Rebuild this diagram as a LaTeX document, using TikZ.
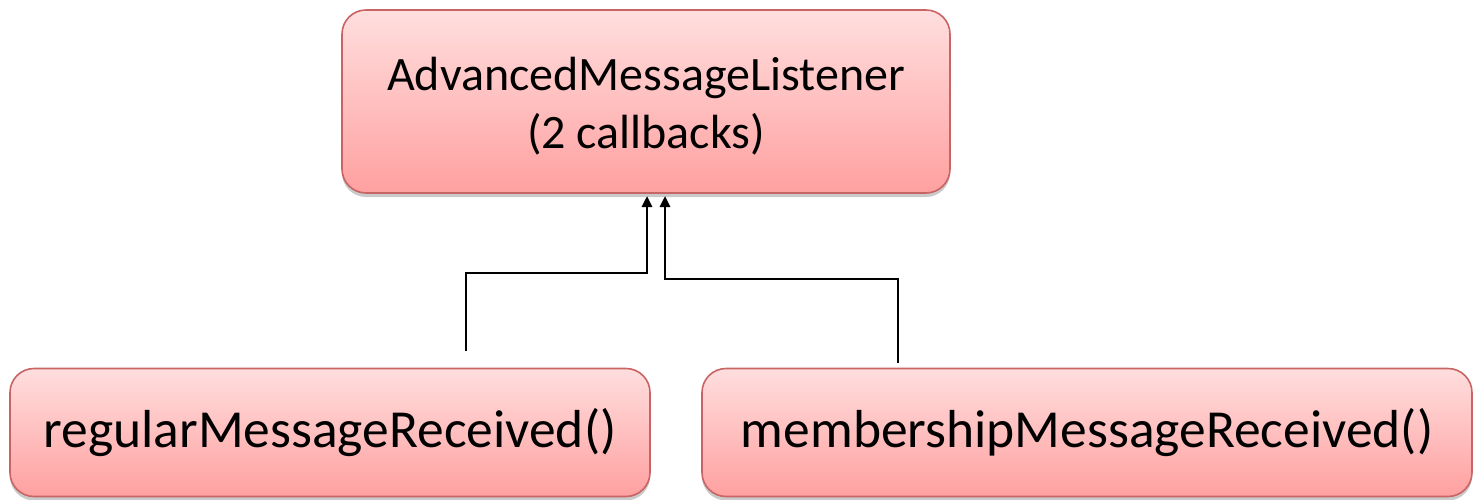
\documentclass[tikz,border=0pt]{standalone}
\usepackage{fontspec}
\setmainfont{Carlito}
\usetikzlibrary{shadows,arrows.meta}
\begin{document}
\begin{tikzpicture}[x=1pt,y=-1pt,
  box/.style={draw={rgb,255:red,200;green,100;blue,100}, line width=1.6pt, rounded corners=24pt,
    top color={rgb,255:red,255;green,222;blue,222}, bottom color={rgb,255:red,255;green,160;blue,160},
    drop shadow={shadow xshift=0pt, shadow yshift=-4pt, opacity=0.35, fill=black!60},
    inner sep=0pt, align=center},
  conn/.style={draw=black, line width=2.6pt, -{Triangle[length=11pt,width=10pt]}}]
\useasboundingbox (0,0) rectangle (1476,499);
\node[box, minimum width=608pt, minimum height=183pt, font=\fontsize{48}{58}\selectfont] (top) at (646,101.5)
  {\rule{0pt}{42pt}AdvancedMessageListener\\(2 callbacks)};
\node[box, minimum width=640pt, minimum height=128pt, font=\fontsize{53.5}{60}\selectfont] (left) at (330,432.5)
  {regularMessageReceived()};
\node[box, minimum width=770pt, minimum height=128pt, font=\fontsize{53.5}{60}\selectfont] (right) at (1087,432.5)
  {membershipMessageReceived()};
\coordinate (ls) at (466,351);
\coordinate (rs) at (898,363);
\coordinate (lt) at (647,196);
\coordinate (rt) at (665,196);
\draw[conn] (ls) |- (lt |- 0,273) -- (lt);
\draw[conn] (rs) |- (rt |- 0,279) -- (rt);
\end{tikzpicture}
\end{document}
